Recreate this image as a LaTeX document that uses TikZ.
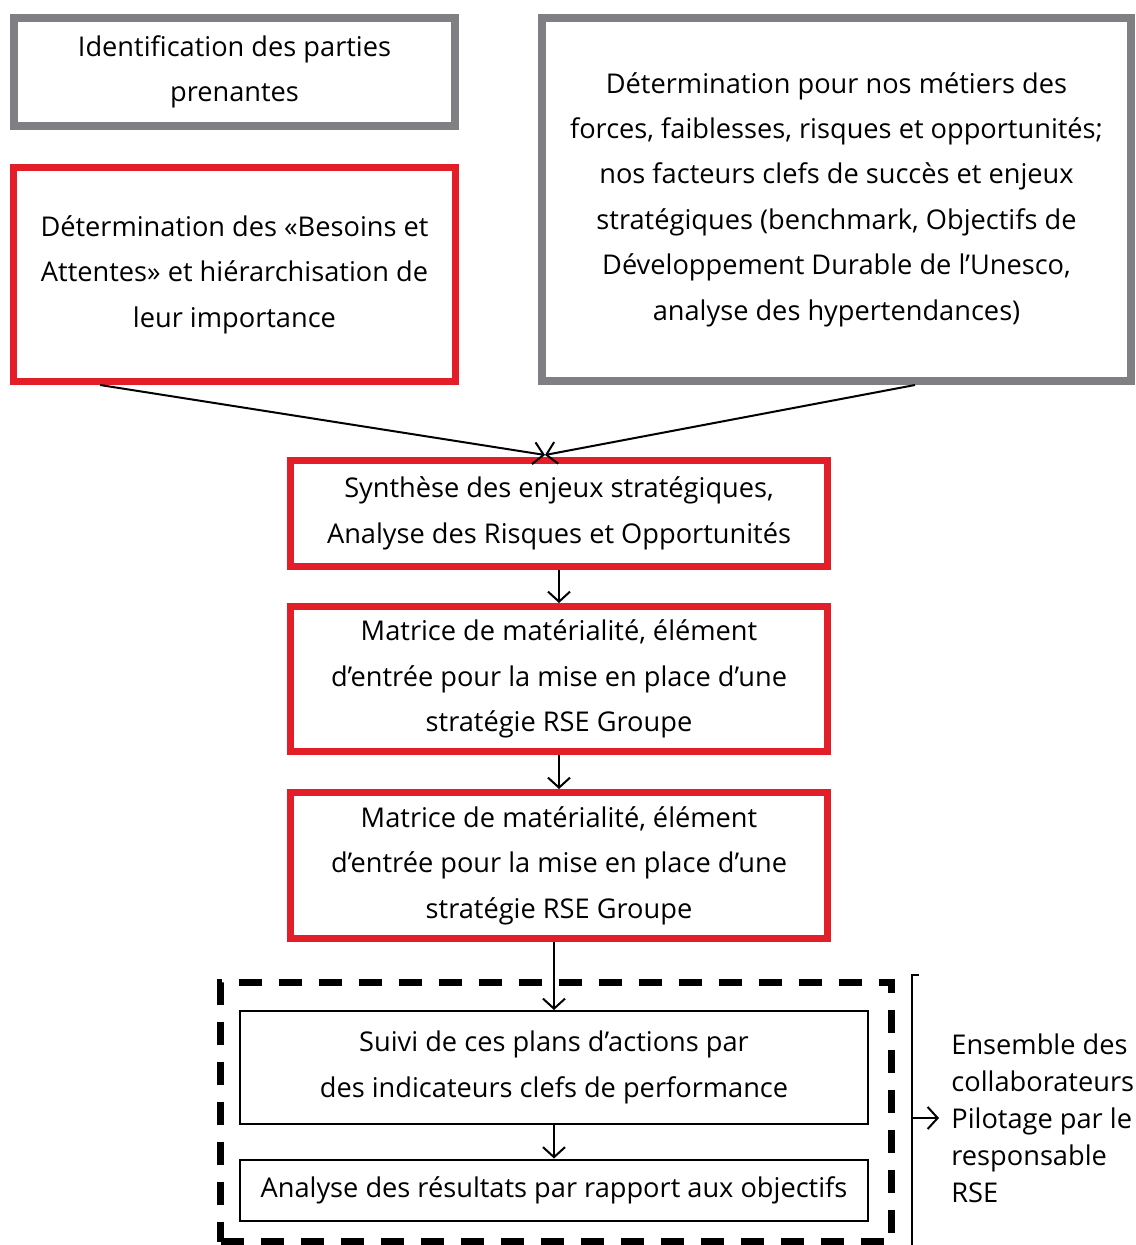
\documentclass[tikz,border=0pt]{standalone}
\usepackage{fontspec}
\setmainfont{Open Sans}
\usetikzlibrary{positioning,arrows.meta}
\definecolor{rseRed}{RGB}{228,30,40}
\definecolor{rseGray}{RGB}{128,128,132}

\begin{document}
\begin{tikzpicture}[x=0.5pt,y=-0.5pt,font=\fontsize{13.6}{22.7}\selectfont,>={Straight Barb[length=5pt,width=11pt]},
  gbox/.style={draw=rseGray,line width=4pt,inner sep=0pt,align=center},
  rbox/.style={draw=rseRed,line width=3.5pt,inner sep=0pt,align=center},
  kbox/.style={draw=black,line width=1pt,inner sep=0pt,align=center},
  conn/.style={->,line width=1pt,black}]
  \useasboundingbox (0,0) rectangle (1135,1245);
  \node[gbox,minimum width=441*0.5pt,minimum height=108*0.5pt] (parties) at (234.5,72) {Identification des parties\\prenantes};
  \node[rbox,minimum width=442*0.5pt,minimum height=214*0.5pt] (besoins) at (234.5,274.5) {Détermination des «Besoins et\\Attentes» et hiérarchisation de\\leur importance};
  \node[gbox,minimum width=589*0.5pt,minimum height=363*0.5pt] (metiers) at (836.5,199.5) {Détermination pour nos métiers des\\forces, faiblesses, risques et opportunités;\\nos facteurs clefs de succès et enjeux\\stratégiques (benchmark, Objectifs de\\Développement Durable de l’Unesco,\\analyse des hypertendances)};
  \node[rbox,minimum width=537*0.5pt,minimum height=106*0.5pt] (synth) at (559,513.5) {Synthèse des enjeux stratégiques,\\Analyse des Risques et Opportunités};
  \node[rbox,minimum width=537*0.5pt,minimum height=145*0.5pt] (matA) at (559,679) {Matrice de matérialité, élément\\d’entrée pour la mise en place d’une\\stratégie RSE Groupe};
  \node[rbox,minimum width=537*0.5pt,minimum height=146*0.5pt] (matB) at (559,865.5) {Matrice de matérialité, élément\\d’entrée pour la mise en place d’une\\stratégie RSE Groupe};
  % suivi des actions
  \node[draw,line width=3.5pt,dash pattern=on 11.5pt off 8.5pt,minimum width=671*0.5pt,minimum height=259*0.5pt,inner sep=0pt] (pilot) at (556,1112) {};
  \node[kbox,minimum width=628*0.5pt,minimum height=113*0.5pt] (suivi) at (554,1067.5) {Suivi de ces plans d’actions par\\des indicateurs clefs de performance};
  \node[kbox,minimum width=628*0.5pt,minimum height=61*0.5pt] (analyse) at (554,1190) {Analyse des résultats par rapport aux objectifs};
  \coordinate (besoinsOut) at (100,385);
  \coordinate (metiersOut) at (915,385);
  \coordinate (synthIn) at (545,455);
  \draw[conn] (besoinsOut) -- (synthIn);
  \draw[conn] (metiersOut) -- (synthIn);
  \draw[conn] (synth) -- (matA);
  \draw[conn] (matA) -- (matB);
  \draw[conn] (matB.south -| suivi) -- (suivi);
  \draw[conn] (suivi) -- (analyse);
  % accolade de droite
  \coordinate (brTop) at (912,975);
  \coordinate (brBot) at (912,1245);
  \coordinate (brMid) at (912,1118);
  \draw[line width=1pt] (919,975) -- (brTop) -- (brBot);
  \node[anchor=west,align=left,font=\fontsize{13.6}{18.5}\selectfont,inner sep=0pt] (equipe) at (951,1118) {Ensemble des\\collaborateurs\\Pilotage par le\\responsable\\RSE};
  \draw[conn,shorten >=6pt] (brMid) -- (equipe.west |- brMid);
\end{tikzpicture}
\end{document}
